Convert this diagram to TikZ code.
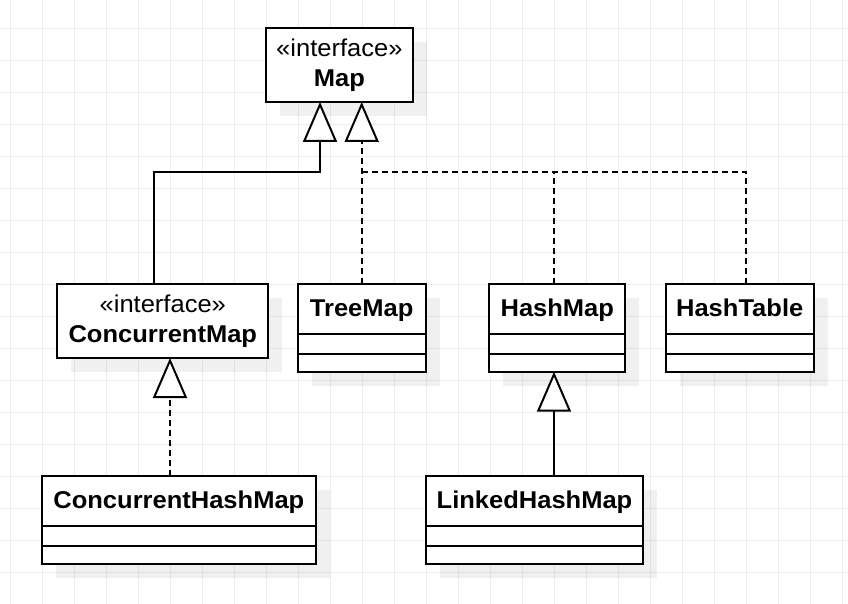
\documentclass[tikz,border=0pt]{standalone}
\usepackage{fontspec}
\setmainfont{Liberation Sans}[FakeStretch=1.05]
\usetikzlibrary{arrows.meta,shadows,calc}
\definecolor{gridc}{HTML}{EDEDED}
\tikzset{
  umlbox/.style={draw=black, line width=2pt, fill=white, inner sep=0pt, outer sep=0pt, rectangle, anchor=north west,
    drop shadow={shadow xshift=14pt, shadow yshift=-14pt, fill=black, opacity=0.06}},
  title/.style={font=\fontsize{24.3}{29}\selectfont\bfseries, inner sep=0pt, anchor=base},
  stereo/.style={font=\fontsize{24.3}{29}\selectfont, inner sep=0pt, anchor=base},
  sepline/.style={line width=2pt},
  gen/.style={line width=2pt, -{Triangle[length=40pt, width=34pt, fill=white]}},
  real/.style={gen, dash pattern=on 6pt off 4pt},
  gridline/.style={draw=gridc, line width=1pt},
}
\begin{document}
\begin{tikzpicture}[x=1pt, y=-1pt]
\useasboundingbox[fill=white] (0,0) rectangle (848,604);
% grid
\foreach \i in {0,...,26} \draw[gridline] ({10.5+32*\i},0) -- ({10.5+32*\i},604);
\foreach \j in {0,...,17} \draw[gridline] (0,{28.3+32*\j}) -- (848,{28.3+32*\j});

% boxes
\node[umlbox, minimum width=146.7pt, minimum height=74pt] (map) at (266,28) {};
\node[umlbox, minimum width=211pt, minimum height=74pt] (cmap) at (57.3,284) {};
\node[umlbox, minimum width=128pt, minimum height=87.7pt] (treemap) at (297.7,284) {};
\node[umlbox, minimum width=136pt, minimum height=87.7pt] (hashmap) at (489.3,284) {};
\node[umlbox, minimum width=148pt, minimum height=87.7pt] (hashtable) at (665.7,284) {};
\node[umlbox, minimum width=217.6pt, minimum height=87.7pt] (linked) at (425.7,476) {};
\node[umlbox, minimum width=274.3pt, minimum height=87.7pt] (chm) at (41.7,476) {};

\foreach \n in {treemap,hashmap,hashtable,linked,chm}{
  \draw[sepline] ($(\n.north west)+(0,49.6)$) -- ($(\n.north east)+(0,49.6)$);
  \draw[sepline] ($(\n.north west)+(0,69.8)$) -- ($(\n.north east)+(0,69.8)$);
}

% texts
\node[stereo] (mapst) at ($(map.north)+(0,28.3)$) {«interface»};
\node[title] (mapt) at ($(map.north)+(0,58.7)$) {Map};
\node[stereo] (cmapst) at ($(cmap.north)+(0,28.5)$) {«interface»};
\node[title] (cmapt) at ($(cmap.north)+(0,58.7)$) {ConcurrentMap};
\node[title] (treemapt) at ($(treemap.north)+(0,32.3)$) {TreeMap};
\node[title] (hashmapt) at ($(hashmap.north)+(0,32.3)$) {HashMap};
\node[title] (hashtablet) at ($(hashtable.north)+(0,32.3)$) {HashTable};
\node[title] (linkedt) at ($(linked.north)+(0,32.3)$) {LinkedHashMap};
\node[title] (chmt) at ($(chm.north)+(0,32.3)$) {ConcurrentHashMap};

% connectors
\coordinate (junc) at ($(treemap.north)+(0,-112)$);
\coordinate (jhm) at ($(hashmap.north west)+(64.7,-112)$);
\draw[gen] ($(cmap.north west)+(96.7,0)$) |- ($(map.south west)+(54,70)$) -- ($(map.south west)+(54,0)$);
\draw[real] (treemap.north) -- (treemap.north |- map.south);
\draw[real, -] ($(hashmap.north west)+(64.7,0)$) -- (jhm);
\draw[real, -] ($(hashtable.north west)+(80.3,0)$) |- (junc);
\draw[real] ($(chm.north west)+(128.3,0)$) -- ($(cmap.south west)+(112.7,0)$);
\draw[gen] ($(linked.north west)+(128.3,0)$) -- ($(hashmap.south west)+(64.7,0)$);
\end{tikzpicture}
\end{document}
